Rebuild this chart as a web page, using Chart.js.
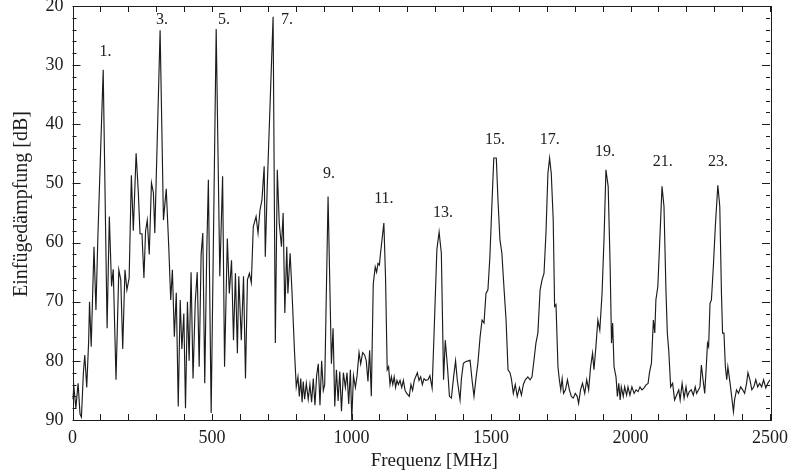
<!DOCTYPE html>
<html><head><meta charset="utf-8">
<script src="https://cdn.jsdelivr.net/npm/chart.js@4/dist/chart.umd.min.js"></script>
<style>html,body{margin:0;padding:0;background:#fff}#wrap{width:789px;height:474px;position:relative}</style>
</head><body><div id="wrap"><canvas id="c" width="789" height="474"></canvas></div>
<script>
// Frequency [MHz]
const freq = [
0,5,12,20,27,32,39,44,51,58, 61,67,77,84,91,110,124,132,140,146,
156,166,173,180,188,195,203,211,218,228, 236,242,249,256,262,268,275,283,290,295,
314,326,336,345,352,358,365,372,379,386, 392,399,405,412,418,425,432,440,447,454,
461,467,474,481,487,497,515,528,538,545, 555,562,570,577,584,591,596,605,613,620,
627,634,641,648,658,665,672,679,687,691, 698,719,727,734,741,749,755,761,768,772,
780,787,796,802,808,813,818,823,827,832, 838,845,851,857,863,869,875,881,887,893,
899,904,916,928,934,940,946,952,958,964, 971,978,984,990,996,1001,1007,1014,1020,1027,
1033,1040,1047,1053,1059,1065,1071,1078,1085,1090, 1095,1100,1104,1116,1122,1128,1133,1138,1143,1148,
1153,1158,1163,1168,1174,1180,1186,1192,1198,1207, 1213,1219,1225,1236,1242,1248,1254,1260,1266,1274,
1281,1289,1296,1306,1314,1322,1330,1336,1344,1351, 1358,1366,1373,1379,1389,1394,1401,1410,1418,1425,
1432,1439,1446,1453,1461,1468,1475,1482,1489,1496, 1503,1510,1519,1525,1532,1539,1547,1554,1561,1568,
1573,1580,1587,1594,1602,1609,1616,1623,1632,1640, 1647,1654,1661,1668,1676,1683,1690,1697,1704,1710,
1716,1723,1728,1733,1740,1745,1750,1755,1760,1767, 1774,1781,1788,1795,1802,1809,1814,1821,1828,1836,
1843,1850,1857,1864,1869,1876,1883,1890,1898,1905, 1912,1920,1927,1932,1936,1941,1948,1953,1958,1963,
1967,1974,1979,1986,1991,1998,2005,2013,2020,2027, 2034,2041,2048,2055,2063,2068,2075,2082,2087,2091,
2098,2106,2113,2120,2127,2132,2137,2144,2151,2158, 2165,2173,2178,2185,2192,2199,2204,2211,2218,2225,
2232,2237,2244,2249,2254,2260,2266,2271,2276,2280, 2285,2290,2297,2304,2313,2320,2326,2330,2335,2340,
2345,2349,2357,2364,2369,2373,2380,2387,2395,2402, 2409,2416,2421,2428,2435,2442,2449,2456,2463,2470,
2477,2485,2492,2500
];
// Einfügedämpfung [dB]
const att = [
86.5,84.4,88,83.8,89,89.5,82,79,84.5,76.5, 70,77.6,60.7,71.4,59,30.8,74.5,55.6,67.4,64.5,
83.2,64.6,66.3,78,64.6,68,66,48.6,58,44.9, 51.6,58.5,58.5,66,58,56.2,62,49.9,51.6,58.4,
24.1,56.2,50.9,60.7,69.7,64.6,75.9,68.5,87.7,69.7, 78,72,88,70,80,65,83,70,65,81,
62,58.4,83.8,62,49.4,88.8,23.9,65.7,48.8,81, 59.3,68.6,63,76.5,65.2,78.7,65.7,76.5,65.7,83,
66.3,65.2,66.8,57.3,55.6,58.4,54.5,52.8,47.1,62.4, 50.5,21.8,77,47.7,56.7,60.7,55,71.9,60.7,68.6,
61.8,68.6,78.7,84.4,82.7,86,83,87,83.5,86.5, 83.8,86.5,84,87,83,87.5,82.5,80.5,87.5,80,
85,84,52.2,80.5,74.5,87.7,81.5,86.8,81.8,88.5, 82,84.5,82,87.3,81.5,90,82.5,84.5,82.5,78.6,
80.5,78.6,79,80,83.5,78.2,86,67,64.1,65, 63.5,63.8,61.8,56.7,66,81.5,81,84,82.7,84,
82.7,84.5,83.3,84,83.3,84.5,83.3,85,85.5,86, 84,85,83.3,82,83.3,82.7,84,83,83.3,83.2,
82.5,84.6,75.3,61.2,58.2,61.8,83.2,76.5,81,86, 86.3,82.7,80,83.2,86.6,83,80.4,80.1,80,79.9,
83.2,86,83,80.4,75.9,73.1,73.6,68.6,68,62.4, 53.9,45.7,45.7,52.8,59.5,61.8,68,73.1,81.5,82,
83,85.5,84,86,84.5,85.8,84,83.2,82.7,83.2, 82.7,79.9,77,75.3,68,66.3,65.2,58.4,48.3,45.7,
48.3,56.2,70.8,70.5,81,83.2,84.9,83,85.5,84.9, 83.2,84.9,86,86.3,85.5,86,87.2,84.9,83.8,85.5,
83.2,84.9,81,78.7,81.5,77.6,73.1,74.8,68.6,59.5, 47.7,50.5,64,77,73.6,81,82.7,86,83.8,86.6,
84.4,86,84.4,85.8,84.4,85.8,84.4,85.5,84.9,85.2, 84.4,84.9,84.6,84.1,83.8,82,80.4,73.1,75.3,69.7,
67.4,58.4,50.5,53.9,68,75.3,78.2,84.4,83.8,86.6, 85.8,84.9,86.6,83.8,86.3,84.4,86,85.2,84.9,85.8,
84.4,85.5,84.9,84.4,80.7,83.2,85.5,81.5,77,77.6, 70.3,69.7,64,57.3,50.3,53.9,68.6,75.3,75.3,81,
83.2,81,83.8,86.6,88.6,86.6,84.9,85.5,84.4,84.9, 85.5,83.8,82,83.2,84.9,84.4,83.2,84.4,83.8,84.4,
83.2,84.6,83.8,83.2
];
const xTickValues = [0,500,1000,1500,2000,2500];
const yTickValues = [20,30,40,50,60,70,80,90];
const xTitle = 'Frequenz [MHz]';
const yTitle = 'Einfügedämpfung [dB]';
const peakLabels = ['1.','3.','5.','7.','9.','11.','13.','15.','17.','19.','21.','23.'];
const peakLabelFreq = [118,321,543,769,919,1116,1328,1514,1711,1909,2116,2314];
const peakLabelDb = [27.7,22.3,22.3,22.3,48.4,52.6,55,42.6,42.6,44.7,46.3,46.3];

const points = freq.map((f,i)=>({x:f,y:att[i]}));
const FONT = '"Liberation Serif", "Times New Roman", serif';
const INK = '#1c1c1c';

const frameTicks = {
  id:'frameTicks',
  afterDatasetsDraw(chart){
    const {ctx, chartArea:a, scales:{x,y}} = chart;
    ctx.save();
    ctx.strokeStyle = INK; ctx.lineWidth = 1;
    ctx.strokeRect(Math.round(a.left)+0.5, Math.round(a.top)+0.5, Math.round(a.right-a.left), Math.round(a.bottom-a.top));
    ctx.beginPath();
    for (let v = 0; v <= 2500; v += 100) {
      const px = Math.round(x.getPixelForValue(v))+0.5;
      ctx.moveTo(px,a.bottom); ctx.lineTo(px,a.bottom-6);
      ctx.moveTo(px,a.top); ctx.lineTo(px,a.top+6);
    }
    for (let v = 20; v <= 90; v += 2) {
      const len = v%10===0 ? 8 : 4;
      const py = Math.round(y.getPixelForValue(v))+0.5;
      ctx.moveTo(a.left,py); ctx.lineTo(a.left+len,py);
      ctx.moveTo(a.right,py); ctx.lineTo(a.right-len,py);
    }
    ctx.stroke();
    ctx.fillStyle = INK; ctx.textAlign='center'; ctx.textBaseline='middle';
    ctx.font = '16px '+FONT;
    peakLabels.forEach((t,i)=>ctx.fillText(t, x.getPixelForValue(peakLabelFreq[i]), y.getPixelForValue(peakLabelDb[i])));
    // axis titles
    ctx.font = '19px '+FONT;
    ctx.fillText(xTitle, (a.left+a.right)/2 + 13, a.bottom + 41);
    ctx.save();
    ctx.translate(22, (a.top+a.bottom)/2 - 9);
    ctx.rotate(-Math.PI/2);
    ctx.font = '20px '+FONT;
    ctx.fillText(yTitle, 0, 0);
    ctx.restore();
    ctx.restore();
  }
};

new Chart(document.getElementById('c'), {
  type:'line',
  data:{datasets:[{data:points, borderColor:INK, borderWidth:1.15, pointRadius:0, tension:0, fill:false}]},
  options:{
    responsive:false, animation:false, devicePixelRatio:1,
    layout:{padding:{left:0,right:19,top:6,bottom:0}},
    plugins:{legend:{display:false}, tooltip:{enabled:false}},
    scales:{
      x:{type:'linear', min:0, max:2500,
        grid:{display:false, drawTicks:false}, border:{display:false},
        afterBuildTicks:s=>{s.ticks = xTickValues.map(v=>({value:v}));},
        afterFit:s=>{s.height=54; s.paddingLeft=0; s.paddingRight=0;},
        ticks:{padding:7, maxRotation:0, autoSkip:false, color:INK, font:{family:FONT,size:18}, callback:v=>String(v)},
        title:{display:false}},
      y:{type:'linear', reverse:true, min:20, max:90,
        grid:{display:false, drawTicks:false}, border:{display:false},
        afterBuildTicks:s=>{s.ticks = yTickValues.map(v=>({value:v}));},
        afterFit:s=>{s.width=72.5; s.paddingTop=0; s.paddingBottom=0;},
        ticks:{padding:9, autoSkip:false, color:INK, font:{family:FONT,size:18}, callback:v=>String(v)},
        title:{display:false}}
    }
  },
  plugins:[frameTicks]
});
</script></body></html>
